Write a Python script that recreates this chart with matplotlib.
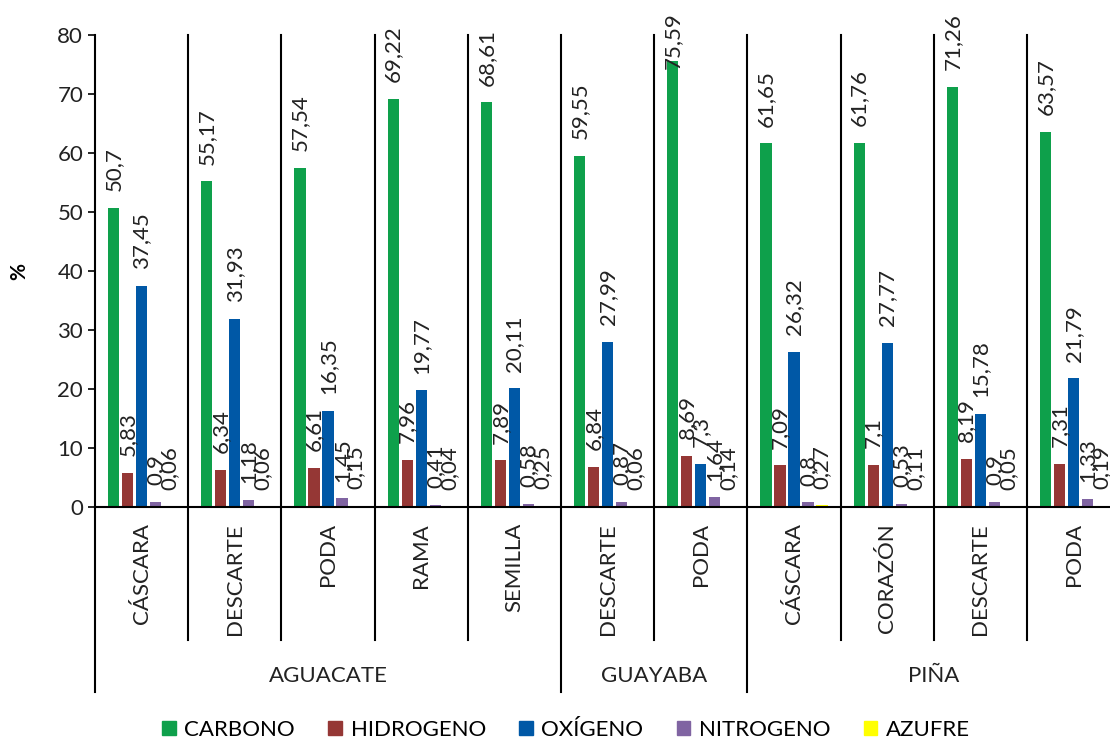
import numpy as np
import matplotlib
matplotlib.use("Agg")
import matplotlib.pyplot as plt
import matplotlib.transforms as mtransforms
import matplotlib.patches as mpatches

plt.rcParams["font.family"] = ["Lato", "DejaVu Sans"]

# categories (fruit group, residue)
groups = ["AGUACATE", "GUAYABA", "PIÑA"]
group_sizes = [5, 2, 4]
residues = ["CÁSCARA", "DESCARTE", "PODA", "RAMA", "SEMILLA",
            "DESCARTE", "PODA",
            "CÁSCARA", "CORAZÓN", "DESCARTE", "PODA"]

carbono = [50.7, 55.17, 57.54, 69.22, 68.61, 59.55, 75.59, 61.65, 61.76, 71.26, 63.57]
hidrogeno = [5.83, 6.34, 6.61, 7.96, 7.89, 6.84, 8.69, 7.09, 7.1, 8.19, 7.31]
oxigeno = [37.45, 31.93, 16.35, 19.77, 20.11, 27.99, 7.3, 26.32, 27.77, 15.78, 21.79]
nitrogeno = [0.9, 1.18, 1.45, 0.41, 0.58, 0.87, 1.64, 0.8, 0.53, 0.9, 1.33]
azufre = [0.06, 0.06, 0.15, 0.04, 0.25, 0.06, 0.14, 0.27, 0.11, 0.05, 0.19]

series = [
    ("CARBONO", carbono, "#0EA04B"),
    ("HIDROGENO", hidrogeno, "#953735"),
    ("OXÍGENO", oxigeno, "#0058A6"),
    ("NITROGENO", nitrogeno, "#8064A2"),
    ("AZUFRE", azufre, "#FFFF00"),
]

W, H = 1110, 741
fig = plt.figure(figsize=(W / 100, H / 100), dpi=100)
# plot area: x from 95px, 93.2 px per category; y=0 at 507px, y=80 at 35px
n = len(residues)
ax = fig.add_axes([95 / W, (H - 507) / H, n * 93.2 / W, 472 / H])

x = np.arange(n)
bar_w = 0.12
step = 0.15
labels = []
for i, (name, vals, col) in enumerate(series):
    pos = x + (i - 2) * step
    bars = ax.bar(pos, vals, bar_w, color=col, label=name, zorder=2)
    for b, v in zip(bars, vals):
        t = ax.annotate(f"{v:g}".replace(".", ","),
                        (b.get_x() + b.get_width() / 2, v),
                        xytext=(0, 12), textcoords="offset points",
                        rotation=90, ha="center", va="bottom", fontsize=16,
                        color="#222222", zorder=4)
        labels.append(t)

ax.set_xlim(-0.5, n - 0.5)
ax.set_ylim(0, 80)
ax.set_yticks(range(0, 81, 10))
ax.tick_params(axis="y", labelsize=16, length=5, width=1.2, direction="out",
               colors="black", labelcolor="#222222")
ax.set_xticks([])
for s in ["top", "right"]:
    ax.spines[s].set_visible(False)
ax.spines["left"].set_linewidth(1.5)
ax.spines["bottom"].set_linewidth(1.5)
ax.set_ylabel("%", fontsize=15, fontweight="bold", labelpad=20)

trans = mtransforms.blended_transform_factory(ax.transData, ax.transAxes)
ax_h = 472.0
inner_bottom = -(640 - 507) / ax_h
group_bottom = -(692 - 507) / ax_h

# separators between categories, longer ones between fruit groups
edges = np.cumsum(group_sizes)[:-1]
for k in range(1, n):
    y0 = group_bottom if k in edges else inner_bottom
    ax.plot([k - 0.5, k - 0.5], [1, y0], transform=trans, color="black",
            lw=1.5, clip_on=False, zorder=3)
ax.plot([-0.5, -0.5], [0, group_bottom], transform=trans, color="black",
        lw=1.5, clip_on=False)

# residue labels
for k, lab in enumerate(residues):
    ax.text(k, -(523 - 507) / ax_h, lab, transform=trans, rotation=90,
            ha="center", va="top", fontsize=16, color="#222222")

# fruit group labels
start = 0
for g, size in zip(groups, group_sizes):
    ax.text(start + (size - 1) / 2, -(676 - 507) / ax_h, g, transform=trans,
            ha="center", va="center", fontsize=16, color="#222222")
    start += size

handles = [mpatches.Patch(color=c, label=nm) for nm, _, c in series]
fig.legend(handles=handles, loc="center", bbox_to_anchor=(0.51, 1 - 730 / H),
           ncol=5, frameon=False, fontsize=16, handlelength=0.6,
           handleheight=0.6, handletextpad=0.4, columnspacing=1.5)

# pull data labels that would leave the figure back down inside it
fig.canvas.draw()
r = fig.canvas.get_renderer()
for t in labels:
    bb = t.get_window_extent(r)
    over = bb.y1 - (H - 12)
    if over > 0:
        ox, oy = t.xyann
        t.xyann = (ox, oy - over * 72 / 100)

fig.savefig("out.png", dpi=100)
